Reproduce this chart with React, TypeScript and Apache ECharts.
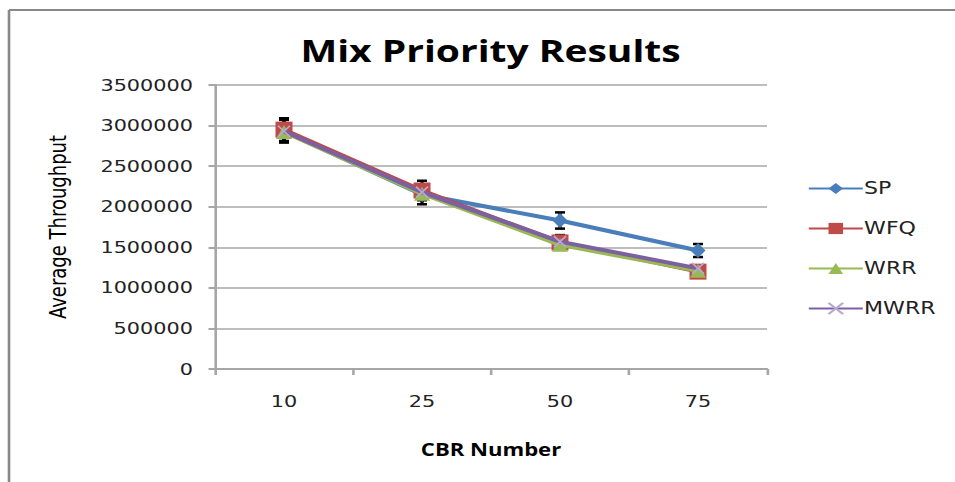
import React, { useEffect, useRef } from "react";
import * as echarts from "echarts";

const categories = ["10", "25", "50", "75"];
const seriesNames = ["SP", "WFQ", "WRR", "MWRR"];
const spValues = [2930000, 2150000, 1830000, 1460000];
const wfqValues = [2950000, 2200000, 1560000, 1200000];
const wrrValues = [2920000, 2160000, 1530000, 1210000];
const mwrrValues = [2930000, 2180000, 1570000, 1240000];
const spError = [140000, 120000, 100000, 80000];
const wfqError = [140000, 120000, 90000, 70000];
const yTicks = [0, 500000, 1000000, 1500000, 2000000, 2500000, 3000000, 3500000];

const colors = ["#4A7EBB", "#BE4B48", "#98B954", "#7D60A0"];

// The reference picture is horizontally stretched; draw narrower and stretch with CSS.
const PAGE_W = 955;
const PAGE_H = 482;
const CHART_W = 735;
const SX = PAGE_W / CHART_W;
const px = (x: number) => x / SX;

export default function App() {
  const ref = useRef<HTMLDivElement>(null);
  useEffect(() => {
    document.body.style.margin = "0";
    document.body.style.overflow = "hidden";
    const chart = echarts.init(ref.current!, null, { renderer: "svg" });
    const errData: any[] = [];
    categories.forEach((c, i) => {
      errData.push([i, spValues[i], spError[i]]);
      errData.push([i, wfqValues[i], wfqError[i]]);
    });
    const xSym = "path://M0,0L10,10M10,0L0,10";
    chart.setOption({
      animation: false,
      backgroundColor: "#ffffff",
      title: {
        text: "Mix Priority Results",
        left: px(294),
        top: 30,
        textStyle: { fontFamily: "Open Sans", fontWeight: "bold", fontSize: 30, color: "#000" },
      },
      grid: { left: px(215), right: CHART_W - px(767), top: 85, bottom: PAGE_H - 369 },
      legend: {
        orient: "vertical",
        left: px(801),
        top: 175,
        itemGap: 23,
        itemWidth: px(54),
        itemHeight: 14,
        data: seriesNames,
        textStyle: { fontFamily: "DejaVu Sans", fontSize: 17, color: "#222", padding: [0, 0, 0, -4] },
      },
      xAxis: {
        type: "category",
        data: categories,
        boundaryGap: true,
        name: "CBR Number",
        nameLocation: "middle",
        nameGap: 72,
        nameTextStyle: { fontFamily: "Open Sans", fontWeight: "bold", fontSize: 17, color: "#000" },
        axisLine: { lineStyle: { color: "#a6a6a6", width: 2 } },
        axisTick: { show: true, length: 6, lineStyle: { color: "#a6a6a6", width: 2 } },
        axisLabel: { fontFamily: "DejaVu Sans", fontSize: 16, color: "#222", margin: 24 },
      },
      yAxis: {
        type: "value",
        min: 0,
        max: 3500000,
        interval: 500000,
        name: "Average Throughput",
        nameLocation: "middle",
        nameGap: 112,
        nameTextStyle: { fontFamily: "DejaVu Sans", fontSize: 18, color: "#000" },
        axisLine: { show: true, lineStyle: { color: "#a6a6a6", width: 2 } },
        axisTick: { show: true, length: 5, inside: false, lineStyle: { color: "#a6a6a6", width: 2 } },
        axisLabel: {
          fontFamily: "DejaVu Sans",
          fontSize: 16,
          color: "#222",
          margin: 17,
          formatter: (v: number) => (yTicks.includes(v) ? String(v) : ""),
        },
        splitLine: { show: true, lineStyle: { color: "#bdbdbd", width: 2 } },
      },
      graphic: [
        { type: "line", shape: { x1: px(9), y1: 10, x2: px(9), y2: PAGE_H }, style: { stroke: "#888", lineWidth: 2 } },
        { type: "line", shape: { x1: px(9), y1: 10, x2: CHART_W, y2: 10 }, style: { stroke: "#888", lineWidth: 2 } },
      ],
      series: [
        {
          type: "custom",
          name: "err",
          z: 1,
          silent: true,
          data: errData,
          renderItem: (params: any, api: any) => {
            const i = api.value(0);
            const v = api.value(1);
            const e = api.value(2);
            const top = api.coord([i, v + e]);
            const bot = api.coord([i, v - e]);
            const w = px(5);
            const st = { stroke: "#000", lineWidth: 2.5 };
            return {
              type: "group",
              children: [
                { type: "line", shape: { x1: top[0], y1: top[1], x2: bot[0], y2: bot[1] }, style: st },
                { type: "line", shape: { x1: top[0] - w, y1: top[1], x2: top[0] + w, y2: top[1] }, style: st },
                { type: "line", shape: { x1: bot[0] - w, y1: bot[1], x2: bot[0] + w, y2: bot[1] }, style: st },
              ],
            };
          },
        },
        {
          name: "SP",
          type: "line",
          z: 2,
          data: spValues,
          symbol: "diamond",
          symbolSize: [px(15), 15],
          itemStyle: { color: colors[0] },
          lineStyle: { color: colors[0], width: 4 },
        },
        {
          name: "WFQ",
          type: "line",
          z: 3,
          data: wfqValues,
          symbol: "rect",
          symbolSize: [px(17), 16],
          itemStyle: { color: colors[1] },
          lineStyle: { color: colors[1], width: 4 },
        },
        {
          name: "WRR",
          type: "line",
          z: 4,
          data: wrrValues,
          symbol: "triangle",
          symbolSize: [px(16), 14],
          itemStyle: { color: colors[2] },
          lineStyle: { color: colors[2], width: 4 },
        },
        {
          name: "MWRR",
          type: "line",
          z: 5,
          data: mwrrValues,
          symbol: xSym,
          symbolSize: [px(12), 11],
          itemStyle: { color: "none", borderColor: "#B9A8D6", borderWidth: 1.5 },
          lineStyle: { color: colors[3], width: 4 },
        },
      ],
    });
    return () => chart.dispose();
  }, []);
  return (
    <div style={{ width: PAGE_W, height: PAGE_H, overflow: "hidden" }}>
      <div
        ref={ref}
        style={{ width: CHART_W, height: PAGE_H, transform: `scaleX(${SX})`, transformOrigin: "0 0" }}
      />
    </div>
  );
}
